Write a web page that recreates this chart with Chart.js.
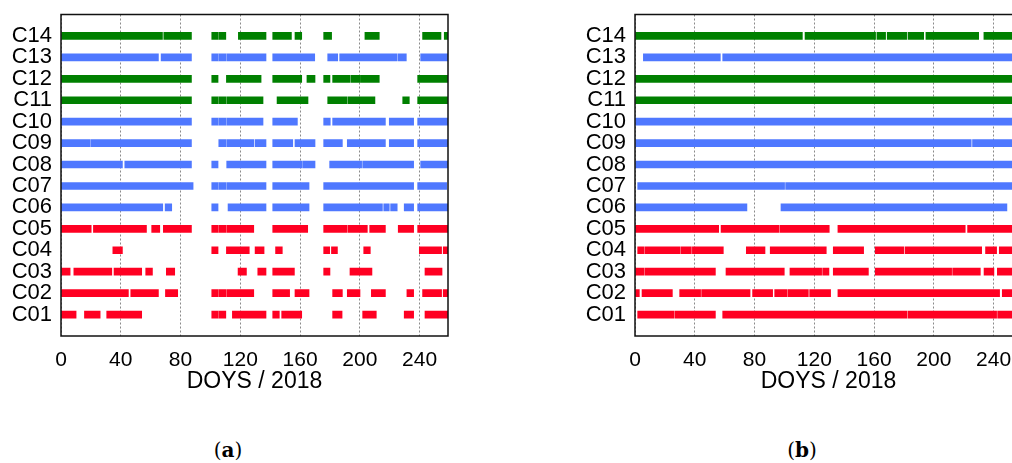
<!DOCTYPE html>
<html>
<head>
<meta charset="utf-8">
<script src="https://cdn.jsdelivr.net/npm/chart.js@4"></script>
<style>
  html, body { margin: 0; padding: 0; width: 1012px; height: 463px; overflow: hidden; background: #fff; }
  canvas { position: absolute; top: 0; }
  #chartA { left: 0; }
  #chartB { left: 574px; }
  .cap { position: absolute; top: 438px; line-height: 24px; font-family: "DejaVu Serif", "Liberation Serif", serif;
         font-size: 20px; color: #000; transform: translateX(-50%); white-space: nowrap; }
</style>
</head>
<body>
<canvas id="chartA" width="460" height="400"></canvas>
<canvas id="chartB" width="460" height="400"></canvas>
<div class="cap" style="left:228px">(<b>a</b>)</div>
<div class="cap" style="left:802px">(<b>b</b>)</div>
<script>
// Row labels, bottom to top
const rowLabels = ['C01','C02','C03','C04','C05','C06','C07','C08','C09','C10','C11','C12','C13','C14'];
// Colour group of each row
const rowGroup = ['r','r','r','r','r','b','b','b','b','b','g','g','b','g'];
const groupColor = { r: '#ff0022', b: '#4f78ff', g: '#008000' };
const dayTicks = [0, 40, 80, 120, 160, 200, 240];
const dayMax = 259;

// (a) observation intervals [start DOY, end DOY]
const segA01 = [[0,10.1],[15.7,26.2],[30.6,54.0],[100.9,105.1],[105.6,110.3],[114.7,137.2],[141.7,146.1],[147.7,161.1],[181.8,188.1],[201.9,211.0],[229.7,236.0],[243.6,259]];
const segA02 = [[0,45.1],[46.7,65.2],[69.9,78.1],[100.9,105.1],[105.6,110.3],[110.9,129.0],[141.7,153.0],[156.6,166.0],[181.8,188.3],[191.6,200.1],[207.7,217.1],[231.5,236.0],[242.0,254.7],[255.8,259]];
const segA03 = [[0,6.1],[8.6,34.0],[35.5,54.0],[56.7,61.2],[70.5,76.1],[118.5,124.1],[131.7,137.2],[141.7,156.2],[175.8,180.0],[193.4,208.1],[243.6,255.0]];
const segA04 = [[34.7,41.1],[100.9,105.1],[110.7,126.0],[129.9,135.9],[143.6,148.1],[175.8,179.8],[181.0,185.0],[202.6,207.0],[239.8,254.7],[255.8,259]];
const segA05 = [[0,20.2],[21.7,57.2],[60.7,66.1],[68.5,87.3],[100.9,105.1],[105.6,110.3],[110.9,129.0],[141.7,165.1],[175.8,191.2],[191.9,205.0],[206.6,217.1],[225.7,236.0],[238.7,259]];
const segA06 = [[0,68.1],[69.7,74.1],[100.9,105.1],[111.8,137.2],[141.7,166.0],[175.8,215.1],[216.0,219.7],[220.6,225.0],[229.7,236.0],[238.7,259]];
const segA07 = [[0,88.4],[100.9,105.1],[105.6,110.3],[110.9,137.2],[141.7,166.0],[175.8,236.0],[238.7,258.1]];
const segA08 = [[0,41.1],[42.7,87.3],[100.9,105.1],[110.9,137.2],[141.7,161.1],[161.7,170.0],[179.8,201.2],[201.9,236.0],[240.7,259]];
const segA09 = [[0,19.3],[19.9,87.3],[105.6,110.3],[110.9,129.0],[129.9,137.2],[141.7,155.1],[156.6,170.0],[175.8,188.3],[191.6,217.1],[219.7,236.0],[238.7,259]];
const segA10 = [[0,87.3],[100.9,105.1],[105.6,110.3],[110.9,135.2],[141.7,158.2],[175.8,180.2],[181.8,217.1],[219.7,236.0],[238.7,259]];
const segA11 = [[0,87.3],[100.9,105.1],[105.6,110.3],[110.9,135.2],[144.6,165.3],[178.5,191.2],[191.9,210.1],[228.7,233.1],[238.7,259]];
const segA12 = [[0,87.3],[100.9,105.1],[110.7,133.9],[141.7,161.1],[164.6,170.0],[175.8,180.0],[181.8,193.2],[193.9,200.5],[201.0,213.0],[238.7,259]];
const segA13 = [[0,65.2],[67.0,87.3],[100.9,105.1],[105.6,110.3],[110.9,137.2],[141.7,169.8],[178.5,185.2],[186.5,225.0],[225.7,231.1],[240.7,259]];
const segA14 = [[0,67.9],[68.8,87.3],[100.9,105.1],[105.6,110.3],[118.7,137.2],[141.7,154.2],[156.6,161.1],[175.8,181.1],[203.4,213.0],[242.0,254.3],[256.5,259]];

// (b) observation intervals [start DOY, end DOY]
const segB01 = [[1.8,25.9],[26.6,53.8],[58.7,182.0],[182.7,242.0],[242.7,259]];
const segB02 = [[0,2.9],[4.7,25.0],[29.9,43.9],[44.6,77.0],[78.7,92.1],[93.5,101.9],[102.6,116.0],[116.9,130.9],[135.8,244.0],[245.8,259]];
const segB03 = [[0,5.8],[6.5,53.8],[60.9,99.9],[103.7,124.9],[125.6,129.8],[132.7,156.2],[160.8,211.9],[212.6,231.1],[233.6,240.2],[242.5,259]];
const segB04 = [[1.8,5.8],[6.5,29.9],[30.6,37.7],[38.4,59.1],[74.5,87.0],[90.5,128.0],[132.7,153.0],[160.8,179.8],[180.7,232.0],[234.6,242.0],[243.8,259]];
const segB05 = [[0,56.0],[57.6,96.2],[96.9,130.0],[135.8,221.0],[222.6,259]];
const segB06 = [[0,74.9],[97.7,248.9]];
const segB07 = [[1.8,100.1],[100.8,259]];
const segB08 = [[0,259]];
const segB09 = [[0,225.0],[225.9,259]];
const segB10 = [[0,259]];
const segB11 = [[0,259]];
const segB12 = [[0,259]];
const segB13 = [[5.6,57.1],[58.7,259]];
const segB14 = [[0,112.0],[113.8,161.0],[161.9,167.7],[168.8,181.8],[182.7,193.2],[194.7,230.0],[233.5,259]];

const rowsA = [segA01,segA02,segA03,segA04,segA05,segA06,segA07,segA08,segA09,segA10,segA11,segA12,segA13,segA14];
const rowsB = [segB01,segB02,segB03,segB04,segB05,segB06,segB07,segB08,segB09,segB10,segB11,segB12,segB13,segB14];

// Black box around the plotting area
const frame = {
  id: 'frame',
  afterDatasetsDraw(chart) {
    const { ctx, chartArea: a } = chart;
    ctx.save();
    ctx.strokeStyle = '#111';
    ctx.lineWidth = 1.5;
    ctx.strokeRect(a.left, a.top, a.right - a.left, a.bottom - a.top);
    ctx.restore();
  }
};

function buildChart(canvasId, rows) {
  const datasets = rows.map((segs, i) => ({
    label: rowLabels[i],
    data: segs.map(([s, e]) => ({ x: [s, e], y: i + 1 })),
    backgroundColor: groupColor[rowGroup[i]],
    borderWidth: 0,
    grouped: false,
    barThickness: 7
  }));
  return new Chart(document.getElementById(canvasId), {
    type: 'bar',
    data: { datasets },
    options: {
      indexAxis: 'y',
      responsive: false,
      animation: false,
      devicePixelRatio: 1,
      layout: { padding: { top: 14.5, right: 12, bottom: 0, left: 0 } },
      plugins: { legend: { display: false }, tooltip: { enabled: false } },
      scales: {
        x: {
          type: 'linear', min: 0, max: dayMax, offset: false,
          afterBuildTicks: s => { s.ticks = dayTicks.map(v => ({ value: v })); },
          afterFit: s => { s.height = 64; s.paddingLeft = 0; s.paddingRight = 0; },
          grid: { color: '#8a8a8a', lineWidth: 1, drawTicks: false, offset: false },
          border: { display: false, dash: [2, 2] },
          ticks: { padding: 12, color: '#000', maxRotation: 0,
                   font: { family: 'Liberation Sans', size: 21 } },
          title: { display: true, text: 'DOYS / 2018', color: '#000',
                   font: { family: 'Liberation Sans', size: 23 }, padding: { top: 0, bottom: 5 } }
        },
        y: {
          type: 'linear', min: 0, max: 15, offset: false,
          afterBuildTicks: s => { s.ticks = rowLabels.map((_, i) => ({ value: i + 1 })); },
          afterFit: s => { s.width = 61; s.paddingTop = 0; s.paddingBottom = 0; },
          grid: { display: false, drawTicks: false, offset: false },
          border: { display: false },
          ticks: { padding: 9, color: '#000', autoSkip: false,
                   font: { family: 'Liberation Sans', size: 22 },
                   callback: v => rowLabels[v - 1] }
        }
      }
    },
    plugins: [frame]
  });
}

buildChart('chartA', rowsA);
buildChart('chartB', rowsB);
</script>
</body>
</html>
